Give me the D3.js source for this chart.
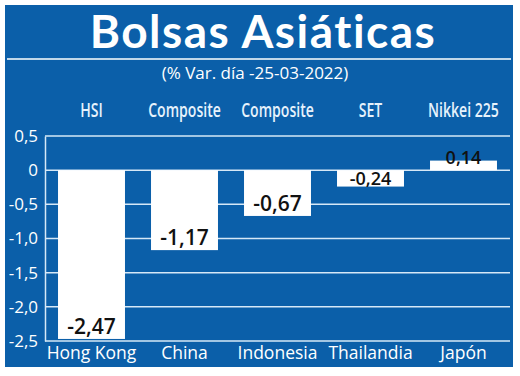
<!DOCTYPE html>
<html>
<head>
<meta charset="utf-8">
<script src="https://cdn.jsdelivr.net/npm/d3@7"></script>
<style>
  body { margin: 0; background: #fff; }
</style>
</head>
<body>
<svg id="fig" width="520" height="376"></svg>
<script>
// data
var paises = ["Hong Kong", "China", "Indonesia", "Thailandia", "Japón"];
var indices = ["HSI", "Composite", "Composite", "SET", "Nikkei 225"];
var variacion = [-2.47, -1.17, -0.67, -0.24, 0.14];
var yTicks = [0.5, 0, -0.5, -1.0, -1.5, -2.0, -2.5];

var azul = "#0b5fa9";
var svg = d3.select("#fig");

// fondo
svg.append("rect").attr("x", 5).attr("y", 5).attr("width", 508).attr("height", 362).attr("fill", azul);

// titulo
svg.append("text").attr("x", 263).attr("y", 48).attr("text-anchor", "middle")
   .attr("fill", "#fff").style("font-family", "Lato").style("font-weight", "700")
   .style("font-size", "46px").style("letter-spacing", "1.5px").text("Bolsas Asiáticas");
svg.append("line").attr("x1", 7).attr("x2", 511).attr("y1", 59).attr("y2", 59)
   .attr("stroke", "#fff").attr("stroke-width", 1.5);
svg.append("text").attr("x", 255).attr("y", 79).attr("text-anchor", "middle")
   .attr("fill", "#fff").style("font-family", "Open Sans").style("font-size", "17px")
   .text("(% Var. día -25-03-2022)");

var x = d3.scaleBand().domain(paises).range([45, 510]).paddingInner(0.28).paddingOuter(0.14);
var y = d3.scaleLinear().domain([-2.5, 0.5]).range([341, 136]);

// grid
svg.append("g").selectAll("line").data(yTicks).enter().append("line")
   .attr("x1", 45).attr("x2", 510)
   .attr("y1", d => y(d)).attr("y2", d => y(d))
   .attr("stroke", "#d6e8f7").attr("stroke-width", 1.5);

// eje y
var yAxis = d3.axisLeft(y).tickValues(yTicks).tickSize(0).tickPadding(7)
   .tickFormat(d => d === 0 ? "0" : d3.format(".1f")(d).replace(".", ",").replace("−", "-"));
var gy = svg.append("g").attr("transform", "translate(45,0)").call(yAxis);
gy.select(".domain").attr("stroke", "#d6e8f7").attr("stroke-width", 1.5);
gy.selectAll("text").attr("fill", "#fff").style("font-family", "Open Sans").style("font-size", "17px");

// barras
svg.append("g").selectAll("rect").data(variacion).enter().append("rect")
   .attr("x", (d, i) => x(paises[i]))
   .attr("width", x.bandwidth())
   .attr("y", d => y(Math.max(0, d)))
   .attr("height", d => Math.abs(y(d) - y(0)))
   .attr("fill", "#fff");

// etiquetas de valor
svg.append("g").selectAll("text").data(variacion).enter().append("text")
   .attr("x", (d, i) => x(paises[i]) + x.bandwidth() / 2)
   .attr("y", d => d < 0 ? Math.max(y(d) - 5, y(0) + 15) : y(d) + 3)
   .attr("text-anchor", "middle").attr("fill", "#111")
   .style("font-family", "Open Sans").style("font-weight", "600")
   .style("font-size", d => Math.abs(d) < 0.3 ? "18px" : "21px")
   .text(d => d3.format(".2f")(d).replace(".", ",").replace("−", "-"));

// indices arriba (condensados)
svg.append("g").selectAll("text").data(indices).enter().append("text")
   .attr("transform", (d, i) => "translate(" + (x(paises[i]) + x.bandwidth() / 2) + ",117) scale(0.74,1)")
   .attr("text-anchor", "middle").attr("fill", "#e6f2fc")
   .style("font-family", "Open Sans").style("font-weight", "600").style("font-size", "19px")
   .text(d => d);

// paises abajo
var xAxis = d3.axisBottom(x).tickSize(0).tickPadding(6);
var gx = svg.append("g").attr("transform", "translate(0,341)").call(xAxis);
gx.select(".domain").remove();
gx.selectAll("text").attr("fill", "#fff").style("font-family", "Open Sans").style("font-size", "17.5px");
</script>
</body>
</html>
